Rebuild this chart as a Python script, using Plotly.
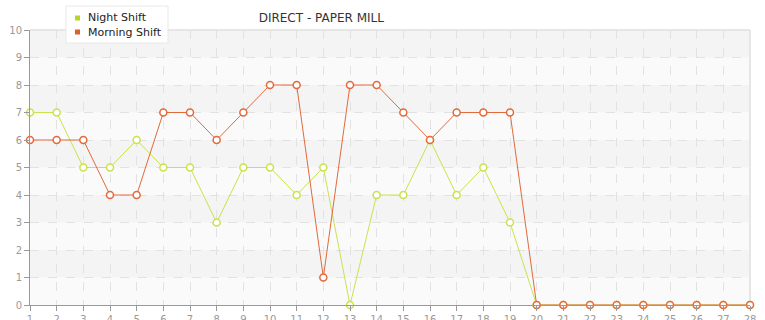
import plotly.graph_objects as go

days = list(range(1, 29))
night_shift = [7, 7, 5, 5, 6, 5, 5, 3, 5, 5, 4, 5, 0, 4, 4, 6, 4, 5, 3, 0, 0, 0, 0, 0, 0, 0, 0, 0]
morning_shift = [6, 6, 6, 4, 4, 7, 7, 6, 7, 8, 8, 1, 8, 8, 7, 6, 7, 7, 7, 0, 0, 0, 0, 0, 0, 0, 0, 0]
y_ticks = list(range(0, 11))
series_names = ["Night Shift", "Morning Shift"]
title_text = "DIRECT - PAPER MILL"

NIGHT_LINE = "#c9e24d"
NIGHT_KEY = "#b5d624"
MORN_LINE = "#e2693a"
MORN_KEY = "#e05f28"

fig = go.Figure()

# alternating background bands
for lo in y_ticks[:-1]:
    fig.add_shape(type="rect", xref="x domain", yref="y", x0=0, x1=1, y0=lo, y1=lo + 1,
                  fillcolor="#f4f4f4" if lo % 2 == 1 else "#fafafa",
                  line=dict(width=0), layer="below")

fig.add_trace(go.Scatter(
    x=days, y=night_shift, mode="lines+markers", name=series_names[0],
    line=dict(color=NIGHT_LINE, width=1),
    marker=dict(symbol="circle", size=7, color="white", line=dict(color=NIGHT_LINE, width=1.5)),
    showlegend=False, cliponaxis=False))
fig.add_trace(go.Scatter(
    x=days, y=morning_shift, mode="lines+markers", name=series_names[1],
    line=dict(color=MORN_LINE, width=1),
    marker=dict(symbol="circle", size=7, color="white", line=dict(color=MORN_LINE, width=1.5)),
    showlegend=False, cliponaxis=False))

fig.update_layout(
    width=765, height=320,
    margin=dict(l=30, r=15, t=30, b=15),
    paper_bgcolor="white", plot_bgcolor="white",
    font=dict(family="DejaVu Sans", size=10, color="#999999"),
    title=dict(text=title_text, x=0.42, xanchor="center", y=0.945, yanchor="middle",
               font=dict(family="DejaVu Sans", size=12, color="#333333")),
    showlegend=False,
)

# compact legend box (px -> paper conversion)
W, H, L, R, T, B = 765, 320, 30, 15, 30, 15
pw, ph = W - L - R, H - T - B
def px(xp):
    return (xp - L) / pw
def py(yp):
    return (H - B - yp) / ph

fig.add_shape(type="rect", xref="paper", yref="paper", x0=px(66), x1=px(168), y0=py(43), y1=py(6),
              fillcolor="white", line=dict(color="#e8e8e8", width=1), layer="above")
keys = [NIGHT_KEY, MORN_KEY]
for i, (nm, col) in enumerate(zip(series_names, keys)):
    yc = 18 + 14 * i
    fig.add_shape(type="rect", xref="paper", yref="paper", x0=px(75), x1=px(80),
                  y0=py(yc + 2.5), y1=py(yc - 2.5), fillcolor=col, line=dict(width=0), layer="above")
    fig.add_annotation(xref="paper", yref="paper", x=px(86), y=py(yc), text=nm, showarrow=False,
                       xanchor="left", yanchor="middle",
                       font=dict(family="DejaVu Sans", size=11, color="#222222"))

fig.update_xaxes(range=[days[0], days[-1]], tickmode="array", tickvals=days, ticktext=[str(d) for d in days],
                 showgrid=True, gridcolor="#e2e2e2", griddash="dash", gridwidth=1,
                 showline=True, linecolor="#999999", linewidth=1,
                 ticks="outside", ticklen=5, tickcolor="#999999",
                 zeroline=False, automargin=False, fixedrange=True)
fig.update_yaxes(range=[0, 10], tickmode="array", tickvals=y_ticks,
                 showgrid=True, gridcolor="#e2e2e2", griddash="dash", gridwidth=1,
                 showline=True, linecolor="#999999", linewidth=1,
                 ticks="outside", ticklen=5, tickcolor="#999999",
                 zeroline=False, automargin=False, fixedrange=True)
fig.add_shape(type="line", xref="paper", yref="paper", x0=0, x1=1, y0=1, y1=1,
              line=dict(color="#e6e6e6", width=2), layer="below")
fig.add_shape(type="line", xref="paper", yref="paper", x0=1, x1=1, y0=0, y1=1,
              line=dict(color="#e6e6e6", width=2), layer="below")

fig.write_html("out.html")
